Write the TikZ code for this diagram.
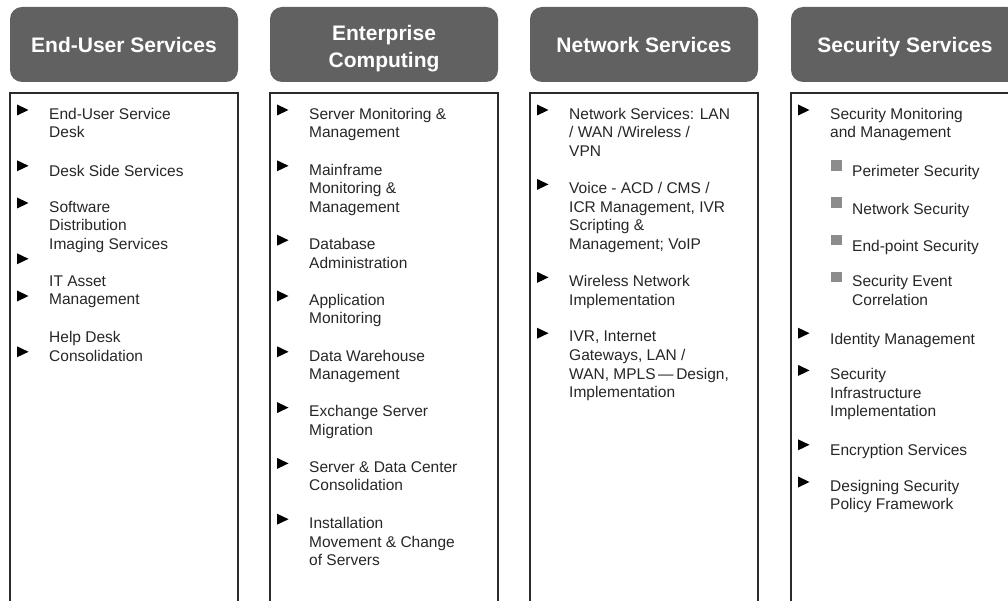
\documentclass[tikz,border=0pt]{standalone}
\usepackage{fontspec}
\setmainfont{Liberation Sans}
\usetikzlibrary{positioning}
\definecolor{headgray}{HTML}{616161}
\definecolor{boxline}{HTML}{2B2B2B}
\definecolor{subgray}{HTML}{8C8C8C}
\newcommand{\baseY}[1]{118+18.6*#1}
\newcommand{\topY}[1]{107.8+18.6*#1}
\tikzset{
    header/.style={fill=headgray, rounded corners=12pt, text=white, inner sep=0pt,
        font=\fontsize{21}{27}\selectfont\bfseries, align=center,
        minimum width=228pt, minimum height=75pt},
    headone/.style={header, text height=17pt, text depth=0pt},
    panel/.style={draw=boxline, line width=2pt},
    entry/.style={anchor=north west, align=left, inner sep=0pt, text=black!85,
        font=\fontsize{15.5}{18.6}\selectfont, execute at begin node=\strut},
}
\tikzset{
    bullet/.pic={
		\fill[black] (0,-13.5) -- (11.5,-8) -- (0,-2.5) -- cycle;
	}
}
\tikzset{
    subbullet/.pic={
		\fill[subgray] (0,-13.5) rectangle (10.5,-3);
	}
}

\begin{document}
\begin{tikzpicture}[x=1pt,y=-1pt]
	\useasboundingbox (0,0) rectangle (1008,601);
	% headers
	\node[headone] (hUser) at (124,44.5) {End-User Services};
	\node[header] (hEnt) at (384,44.5) {\rule{0pt}{23pt}Enterprise\\Computing};
	\node[headone] (hNet) at (644,44.5) {Network Services};
	\node[headone] (hSec) at (905,44.5) {Security Services};
	% panels
	\draw[panel] (10,93) rectangle (238,620);
	\draw[panel] (270,93) rectangle (498,620);
	\draw[panel] (530,93) rectangle (758,620);
	\draw[panel] (791,93) rectangle (1019,620);

	% End-User Services
	\foreach \k in {0,3,5,8,10,13}
		\pic at (17,{\baseY{\k}}) {bullet};
	\node[entry] (uDesk) at (49,{\topY{0}}) {End-User Service\\Desk};
	\node[entry] (uSide) at (49,{\topY{3}}) {Desk Side Services};
	\node[entry] (uSoft) at (49,{\topY{5}}) {Software\\Distribution\\Imaging Services};
	\node[entry] (uAsset) at (49,{\topY{9}}) {IT Asset\\Management};
	\node[entry] (uHelp) at (49,{\topY{12}}) {Help Desk\\Consolidation};

	% Enterprise Computing
	\foreach \k in {0,3,7,10,13,16,19,22}
		\pic at (277,{\baseY{\k}}) {bullet};
	\node[entry] (eServer) at (309,{\topY{0}}) {Server Monitoring \&\\Management};
	\node[entry] (eMain) at (309,{\topY{3}}) {Mainframe\\Monitoring \&\\Management};
	\node[entry] (eData) at (309,{\topY{7}}) {Database\\Administration};
	\node[entry] (eApp) at (309,{\topY{10}}) {Application\\Monitoring};
	\node[entry] (eWare) at (309,{\topY{13}}) {Data Warehouse\\Management};
	\node[entry] (eExch) at (309,{\topY{16}}) {Exchange Server\\Migration};
	\node[entry] (eCons) at (309,{\topY{19}}) {Server \& Data Center\\Consolidation};
	\node[entry] (eInst) at (309,{\topY{22}}) {Installation\\Movement \& Change\\of Servers};

	% Network Services
	\foreach \k in {0,4,9,12}
		\pic at (537,{\baseY{\k}}) {bullet};
	\node[entry] (nLan) at (569,{\topY{0}}) {Network Services: LAN\\/ WAN /Wireless /\\VPN};
	\node[entry] (nVoice) at (569,{\topY{4}}) {Voice - ACD / CMS /\\ICR Management, IVR\\Scripting \&\\Management; VoIP};
	\node[entry] (nWifi) at (569,{\topY{9}}) {Wireless Network\\Implementation};
	\node[entry] (nIvr) at (569,{\topY{12}}) {IVR, Internet\\Gateways, LAN /\\WAN, MPLS\,—\,Design,\\Implementation};

	% Security Services
	\foreach \k in {0,12,14,18,20}
		\pic at (798,{\baseY{\k}}) {bullet};
	\foreach \k in {3,5,7,9}
		\pic at (831,{\baseY{\k}}) {subbullet};
	\node[entry] (sMon) at (830,{\topY{0}}) {Security Monitoring\\and Management};
	\node[entry] (sPeri) at (852,{\topY{3}}) {Perimeter Security};
	\node[entry] (sNet) at (852,{\topY{5}}) {Network Security};
	\node[entry] (sEnd) at (852,{\topY{7}}) {End-point Security};
	\node[entry] (sEvent) at (852,{\topY{9}}) {Security Event\\Correlation};
	\node[entry] (sId) at (830,{\topY{12}}) {Identity Management};
	\node[entry] (sInfra) at (830,{\topY{14}}) {Security\\Infrastructure\\Implementation};
	\node[entry] (sEnc) at (830,{\topY{18}}) {Encryption Services};
	\node[entry] (sPol) at (830,{\topY{20}}) {Designing Security\\Policy Framework};
\end{tikzpicture}
\end{document}
